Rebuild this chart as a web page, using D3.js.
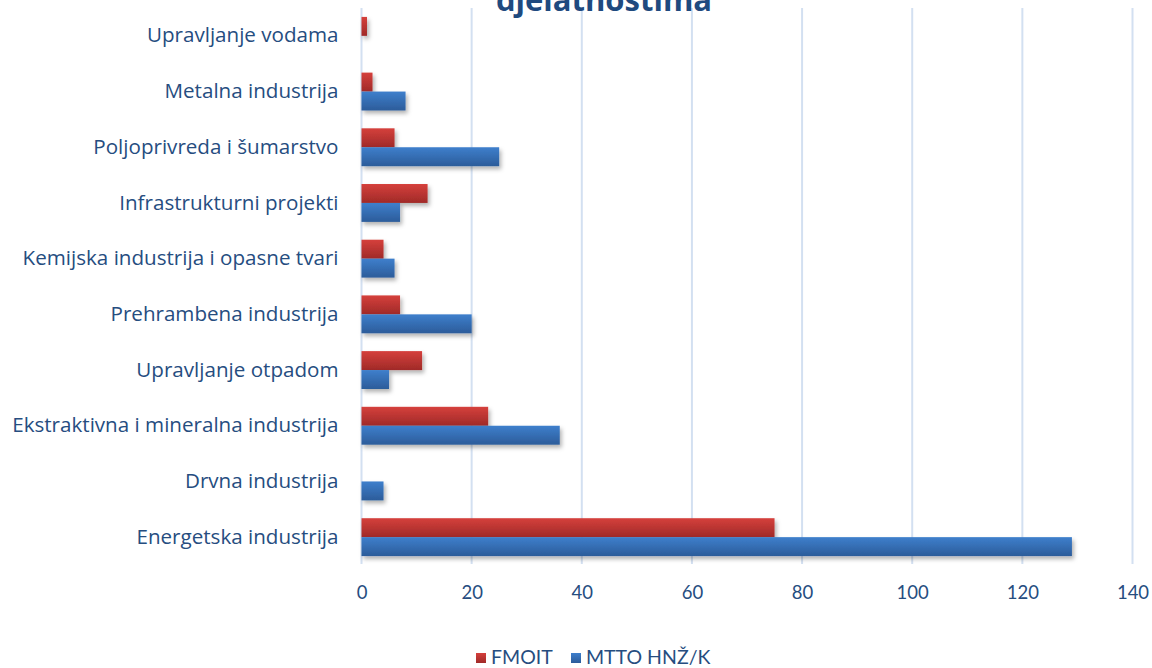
<!DOCTYPE html>
<html>
<head>
<meta charset="utf-8">
<script src="https://cdn.jsdelivr.net/npm/d3@7"></script>
<style>
    body { margin: 0; background: #fff; }
    svg { display: block; }
    text { font-family: Lato, "Open Sans", sans-serif; fill: #264d7f; }
</style>
</head>
<body>
<div id="chart"></div>
<script>
const categories = [
    "Upravljanje vodama",
    "Metalna industrija",
    "Poljoprivreda i šumarstvo",
    "Infrastrukturni projekti",
    "Kemijska industrija i opasne tvari",
    "Prehrambena industrija",
    "Upravljanje otpadom",
    "Ekstraktivna i mineralna industrija",
    "Drvna industrija",
    "Energetska industrija"
];
const seriesNames = ["FMOIT", "MTTO HNŽ/K"];
const fmoit = [1, 2, 6, 12, 4, 7, 11, 23, 0, 75];
const mtto = [0, 8, 25, 7, 6, 20, 5, 36, 4, 129];
const xTicks = [0, 20, 40, 60, 80, 100, 120, 140];

const WIDTH = 1152, HEIGHT = 668;
const LEFT = 361.5, RIGHT = 1132.5, TOP = 8, BOTTOM = 565;

const svg = d3.select("#chart").append("svg")
    .attr("width", WIDTH)
    .attr("height", HEIGHT);

const defs = svg.append("defs");
const gradColors = [["#d5403c", "#a02a28"], ["#3e7fcc", "#2c5c9a"]];
gradColors.forEach((c, i) => {
    const lg = defs.append("linearGradient")
        .attr("id", "grad" + i)
        .attr("x1", 0).attr("y1", 0).attr("x2", 0).attr("y2", 1);
    lg.append("stop").attr("offset", "0%").attr("stop-color", c[0]);
    lg.append("stop").attr("offset", "100%").attr("stop-color", c[1]);
});
defs.append("filter")
    .attr("id", "shadow")
    .attr("x", "-10%").attr("y", "-30%").attr("width", "130%").attr("height", "190%")
    .append("feDropShadow")
    .attr("dx", 2).attr("dy", 3)
    .attr("stdDeviation", 2)
    .attr("flood-color", "#000")
    .attr("flood-opacity", 0.3);

const x = d3.scaleLinear().domain([0, 140]).range([LEFT, RIGHT]);
const y = d3.scaleBand().domain(categories).range([TOP, BOTTOM])
    .paddingInner(0.32).paddingOuter(0.16);
const ySub = d3.scaleBand().domain([0, 1]).range([0, y.bandwidth()]);

// gridlines
svg.append("g")
    .selectAll("line")
    .data(xTicks)
    .join("line")
    .attr("x1", d => x(d)).attr("x2", d => x(d))
    .attr("y1", TOP).attr("y2", BOTTOM - 1)
    .attr("stroke", "#d3e0f1")
    .attr("stroke-width", 2);

// title (partly cut off at top, as in the source)
svg.append("text")
    .attr("x", 604)
    .attr("y", 11)
    .attr("text-anchor", "middle")
    .style("font-family", "'Open Sans', sans-serif")
    .style("font-weight", "bold")
    .style("font-size", "31px")
    .style("fill", "#1f4a7f")
    .text("djelatnostima");

// bars
const series = [fmoit, mtto];
series.forEach((vals, s) => {
    svg.append("g")
        .attr("filter", "url(#shadow)")
        .selectAll("rect")
        .data(categories)
        .join("rect")
        .attr("x", x(0))
        .attr("y", (d, i) => y(d) + ySub(s))
        .attr("width", (d, i) => x(vals[i]) - x(0))
        .attr("height", ySub.bandwidth())
        .attr("fill", `url(#grad${s})`)
        .style("display", (d, i) => vals[i] > 0 ? null : "none");
});

// category labels
const yAxis = svg.append("g")
    .attr("transform", `translate(${LEFT - 23},0)`)
    .call(d3.axisLeft(y).tickSize(0).tickPadding(0));
yAxis.select(".domain").remove();
yAxis.selectAll("text")
    .style("font-family", "'Open Sans', sans-serif")
    .style("font-size", "20.6px")
    .attr("fill", null);

// value axis labels
const xAxis = svg.append("g")
    .attr("transform", `translate(0,${BOTTOM + 21})`)
    .call(d3.axisBottom(x).tickValues(xTicks).tickSize(0).tickPadding(0));
xAxis.select(".domain").remove();
xAxis.selectAll("text")
    .style("font-size", "18.5px")
    .attr("fill", null);

// legend
const legendX = [476, 571];
const legend = svg.append("g")
    .selectAll("g")
    .data(seriesNames)
    .join("g")
    .attr("transform", (d, i) => `translate(${legendX[i]},653)`);
legend.append("rect")
    .attr("width", 10).attr("height", 10)
    .attr("fill", (d, i) => `url(#grad${i})`);
legend.append("text")
    .attr("x", 15).attr("y", 11)
    .style("font-size", "19.5px")
    .text(d => d);
</script>
</body>
</html>
